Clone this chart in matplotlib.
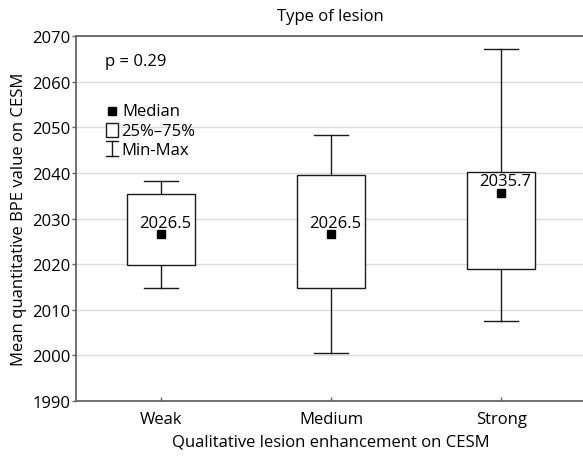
import matplotlib.pyplot as plt
from matplotlib.patches import Rectangle

# values
categories = ["Weak", "Medium", "Strong"]
whisker_min = [2014.7, 2000.6, 2007.5]
q1 = [2019.8, 2014.8, 2018.9]
median = [2026.5, 2026.5, 2035.7]
q3 = [2035.4, 2039.6, 2040.3]
whisker_max = [2038.2, 2048.3, 2067.2]
median_labels = ["2026.5", "2026.5", "2035.7"]
yticks = [1990, 2000, 2010, 2020, 2030, 2040, 2050, 2060, 2070]
p_text = "p = 0.29"

plt.rcParams["font.family"] = ["Open Sans", "DejaVu Sans"]
plt.rcParams["font.size"] = 12

fig = plt.figure(figsize=(5.83, 4.6), dpi=100)
ax = fig.add_axes([0.1304, 0.126, 0.875, 0.7936])

line_c = "#1a1a1a"
box_w = 0.4
cap_w = 0.2
for i in range(len(categories)):
    # whiskers
    ax.plot([i, i], [q3[i], whisker_max[i]], color=line_c, lw=1, zorder=2)
    ax.plot([i, i], [whisker_min[i], q1[i]], color=line_c, lw=1, zorder=2)
    ax.plot([i - cap_w / 2, i + cap_w / 2], [whisker_max[i]] * 2, color=line_c, lw=1, zorder=2)
    ax.plot([i - cap_w / 2, i + cap_w / 2], [whisker_min[i]] * 2, color=line_c, lw=1, zorder=2)
    # box
    ax.add_patch(Rectangle((i - box_w / 2, q1[i]), box_w, q3[i] - q1[i],
                           facecolor="white", edgecolor=line_c, lw=1, zorder=3))
    # median marker + label
    ax.plot(i, median[i], marker="s", color="black", ms=5.5, ls="none", zorder=4)
    ax.annotate(median_labels[i], (i, median[i]), xytext=(3, 2.5),
                textcoords="offset points", ha="center", va="bottom",
                zorder=5)

ax.set_xlim(-0.5, 2.5)
ax.set_ylim(1990, 2070)
ax.set_xticks(range(len(categories)))
ax.set_xticklabels(categories)
ax.set_yticks(yticks)
ax.yaxis.grid(True, color="#dddddd", lw=1)
ax.set_axisbelow(True)

for s in ["top", "left", "bottom"]:
    ax.spines[s].set_color("#666666")
    ax.spines[s].set_linewidth(1.3)
ax.spines["right"].set_visible(False)
ax.tick_params(axis="y", direction="out", length=3, width=1, color="#666666", pad=1)
ax.tick_params(axis="x", direction="in", length=3, width=1, color="#666666", pad=7)

ax.set_xlabel("Qualitative lesion enhancement on CESM", labelpad=5)
ax.set_ylabel("Mean quantitative BPE value on CESM", labelpad=4)
fig.text(0.566, 0.962, "Type of lesion", ha="center", va="center")

# p-value
ax.text(0.057, 0.931, p_text, transform=ax.transAxes, ha="left", va="center")

# hand-made legend
tr = ax.transAxes
ax.plot(0.070, 0.795, marker="s", color="black", ms=6, transform=tr, clip_on=False)
ax.text(0.091, 0.795, "Median", transform=tr, ha="left", va="center")
ax.add_patch(Rectangle((0.059, 0.724), 0.023, 0.038, transform=tr,
                       facecolor="white", edgecolor=line_c, lw=1))
ax.text(0.089, 0.739, "25%–75%", transform=tr, ha="left", va="center")
ax.plot([0.058, 0.083], [0.711, 0.711], color=line_c, lw=1, transform=tr)
ax.plot([0.070, 0.070], [0.711, 0.672], color=line_c, lw=1, transform=tr)
ax.plot([0.059, 0.082], [0.672, 0.672], color=line_c, lw=1, transform=tr)
ax.text(0.089, 0.687, "Min-Max", transform=tr, ha="left", va="center")

fig.savefig("out.png", dpi=100)
